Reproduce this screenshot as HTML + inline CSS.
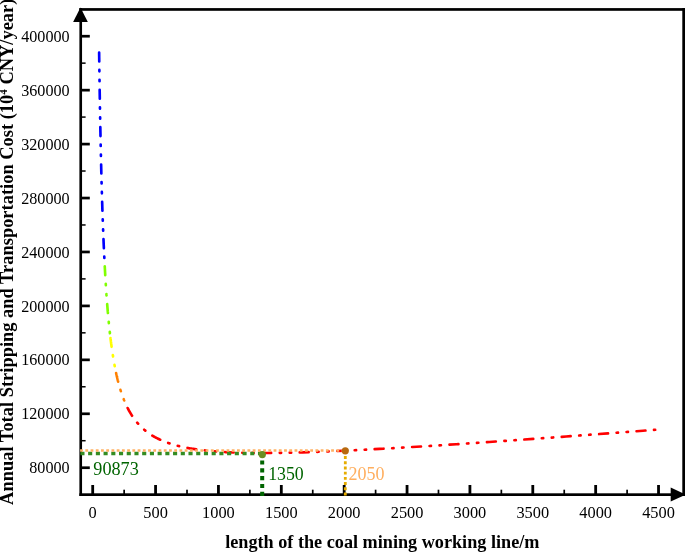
<!DOCTYPE html>
<html><head><meta charset="utf-8"><title>chart</title>
<style>
html,body{margin:0;padding:0;background:#fff;}
body{width:685px;height:552px;overflow:hidden;position:relative;font-family:"Liberation Serif",serif;}
svg{position:absolute;left:0;top:0;display:block;}
text{font-family:"Liberation Serif",serif;}
</style></head><body>
<svg width="685" height="552" viewBox="0 0 685 552">
<rect width="685" height="552" fill="#fff"/>

<g fill="#000">
<rect x="79.4" y="8.1" width="606" height="2.7"/>
<rect x="682.3" y="8.1" width="3" height="487.9"/>
<rect x="79.4" y="8.1" width="2.65" height="487.9"/>
<rect x="79.4" y="493.3" width="606" height="2.7"/>
<polygon points="80.5,7.5 73.1,22 87.8,22"/>
<polygon points="686,494.6 670.7,487.4 670.7,501.6"/>
<rect x="81" y="466.38" width="8.8" height="2.7"/>
<rect x="81" y="412.44" width="8.8" height="2.7"/>
<rect x="81" y="358.50" width="8.8" height="2.7"/>
<rect x="81" y="304.56" width="8.8" height="2.7"/>
<rect x="81" y="250.62" width="8.8" height="2.7"/>
<rect x="81" y="196.69" width="8.8" height="2.7"/>
<rect x="81" y="142.75" width="8.8" height="2.7"/>
<rect x="81" y="88.81" width="8.8" height="2.7"/>
<rect x="81" y="34.87" width="8.8" height="2.7"/>
<rect x="81" y="439.96" width="4.6" height="1.5"/>
<rect x="81" y="386.02" width="4.6" height="1.5"/>
<rect x="81" y="332.08" width="4.6" height="1.5"/>
<rect x="81" y="278.14" width="4.6" height="1.5"/>
<rect x="81" y="224.21" width="4.6" height="1.5"/>
<rect x="81" y="170.27" width="4.6" height="1.5"/>
<rect x="81" y="116.33" width="4.6" height="1.5"/>
<rect x="81" y="62.39" width="4.6" height="1.5"/>
<rect x="91.30" y="485" width="2.8" height="9"/>
<rect x="154.17" y="485" width="2.8" height="9"/>
<rect x="217.04" y="485" width="2.8" height="9"/>
<rect x="279.91" y="485" width="2.8" height="9"/>
<rect x="342.78" y="485" width="2.8" height="9"/>
<rect x="405.65" y="485" width="2.8" height="9"/>
<rect x="468.52" y="485" width="2.8" height="9"/>
<rect x="531.39" y="485" width="2.8" height="9"/>
<rect x="594.26" y="485" width="2.8" height="9"/>
<rect x="657.13" y="485" width="2.8" height="9"/>
<rect x="123.29" y="489.7" width="1.7" height="5"/>
<rect x="186.16" y="489.7" width="1.7" height="5"/>
<rect x="249.03" y="489.7" width="1.7" height="5"/>
<rect x="311.89" y="489.7" width="1.7" height="5"/>
<rect x="374.76" y="489.7" width="1.7" height="5"/>
<rect x="437.63" y="489.7" width="1.7" height="5"/>
<rect x="500.50" y="489.7" width="1.7" height="5"/>
<rect x="563.38" y="489.7" width="1.7" height="5"/>
<rect x="626.25" y="489.7" width="1.7" height="5"/>
</g>
<g font-size="16.35" fill="#000">
<text x="69.6" y="473.33" font-size="16.15" text-anchor="end">80000</text>
<text x="69.6" y="419.39" font-size="16.15" text-anchor="end">120000</text>
<text x="69.6" y="365.45" font-size="16.15" text-anchor="end">160000</text>
<text x="69.6" y="311.51" font-size="16.15" text-anchor="end">200000</text>
<text x="69.6" y="257.57" font-size="16.15" text-anchor="end">240000</text>
<text x="69.6" y="203.64" font-size="16.15" text-anchor="end">280000</text>
<text x="69.6" y="149.70" font-size="16.15" text-anchor="end">320000</text>
<text x="69.6" y="95.76" font-size="16.15" text-anchor="end">360000</text>
<text x="69.6" y="41.82" font-size="16.15" text-anchor="end">400000</text>
<text x="92.70" y="518.3" text-anchor="middle">0</text>
<text x="155.57" y="518.3" text-anchor="middle">500</text>
<text x="218.44" y="518.3" text-anchor="middle">1000</text>
<text x="281.31" y="518.3" text-anchor="middle">1500</text>
<text x="344.18" y="518.3" text-anchor="middle">2000</text>
<text x="407.05" y="518.3" text-anchor="middle">2500</text>
<text x="469.92" y="518.3" text-anchor="middle">3000</text>
<text x="532.79" y="518.3" text-anchor="middle">3500</text>
<text x="595.66" y="518.3" text-anchor="middle">4000</text>
<text x="658.53" y="518.3" text-anchor="middle">4500</text>
</g>
<text x="382.3" y="548.2" font-size="18.2" font-weight="bold" text-anchor="middle">length of the coal mining working line/m</text>
<text transform="translate(12.5,504.9) rotate(-90)" font-size="18.46" font-weight="bold">Annual Total Stripping and Transportation Cost (10<tspan font-size="11" dy="-6">4</tspan><tspan dy="6"> CNY/year)</tspan></text>
<g fill="none" stroke-width="2.65" stroke-linecap="round">
<path d="M99.13,52.50 L99.16,54.88 L99.19,57.23 L99.22,59.55 L99.25,61.85 L99.29,64.13 L99.32,66.38 L99.35,68.60 L99.38,70.80 L99.41,72.98 L99.44,75.14 L99.47,77.27 L99.50,79.38 L99.54,81.47 L99.57,83.53 L99.60,85.58 L99.63,87.60 L99.66,89.61 L99.69,91.59 L99.72,93.55 L99.76,95.50 L99.79,97.42 L99.82,99.33 L99.85,101.21 L99.88,103.08 L99.91,104.93 L99.94,106.76 L99.98,108.57 L100.01,110.37 L100.04,112.15 L100.07,113.91 L100.10,115.65 L100.13,117.38 L100.16,119.09 L100.20,120.79 L100.23,122.47 L100.26,124.13 L100.29,125.78 L100.32,127.41 L100.35,129.03 L100.38,130.63 L100.42,132.22 L100.45,133.80 L100.48,135.36 L100.51,136.90 L100.54,138.44 L100.57,139.95 L100.60,141.46 L100.64,142.95 L100.67,144.43 L100.70,145.90 L100.73,147.35 L100.76,148.79 L100.79,150.22 L100.82,151.64 L100.85,153.04 L100.89,154.43 L100.92,155.81 L100.95,157.18 L100.98,158.54 L101.01,159.88 L101.04,161.22 L101.07,162.54 L101.11,163.85 L101.14,165.15 L101.17,166.44 L101.20,167.72 L101.23,168.99 L101.26,170.25 L101.29,171.50 L101.33,172.74 L101.36,173.97 L101.39,175.19 L101.42,176.40 L101.45,177.60 L101.48,178.79 L101.51,179.97 L101.55,181.15 L101.58,182.31 L101.61,183.46 L101.64,184.61 L101.67,185.74 L101.70,186.87 L101.73,187.99 L101.77,189.10 L101.80,190.20 L101.83,191.30 L101.86,192.38 L101.89,193.46 L101.92,194.53 L101.95,195.59 L101.99,196.64 L102.02,197.69 L102.05,198.73 L102.08,199.76 L102.11,200.78 L102.14,201.79 L102.17,202.80 L102.21,203.80 L102.24,204.79 L102.27,205.78 L102.30,206.76 L102.33,207.73 L102.36,208.70 L102.39,209.66 L102.42,210.61 L102.46,211.55 L102.49,212.49 L102.52,213.42 L102.55,214.35 L102.58,215.27 L102.61,216.18 L102.64,217.09 L102.68,217.99 L102.71,218.88 L102.74,219.77 L102.77,220.65 L102.80,221.52 L102.83,222.39 L102.86,223.26 L102.90,224.12 L102.93,224.97 L102.96,225.82 L102.99,226.66 L103.02,227.49 L103.05,228.32 L103.08,229.15 L103.12,229.97 L103.15,230.78 L103.18,231.59 L103.21,232.39 L103.24,233.19 L103.27,233.98 L103.30,234.77 L103.34,235.55 L103.37,236.33 L103.40,237.10 L103.43,237.87 L103.46,238.63 L103.49,239.39 L103.52,240.15 L103.56,240.89 L103.59,241.64 L103.62,242.38 L103.65,243.11 L103.68,243.84 L103.71,244.57 L103.74,245.29 L103.78,246.01 L103.81,246.72 L103.84,247.43 L103.87,248.13 L103.90,248.83 L103.93,249.53 L103.96,250.22 L103.99,250.90 L104.03,251.59 L104.06,252.27 L104.09,252.94 L104.12,253.61 L104.15,254.28 L104.18,254.94 L104.21,255.60 L104.25,256.26 L104.28,256.91 L104.31,257.55 L104.34,258.20 L104.37,258.84 L104.40,259.47 L104.43,260.11 L104.47,260.74 L104.50,261.36 L104.53,261.98 L104.56,262.60" stroke="#0000ff" stroke-dasharray="8.9 8.550 1.4 8.550 1.4 8.550"/>
<path d="M104.75,266.24 L104.78,266.83 L104.81,267.42 L104.84,268.01 L104.87,268.59 L104.91,269.17 L104.94,269.75 L104.97,270.33 L105.00,270.90 L105.03,271.47 L105.06,272.03 L105.09,272.59 L105.13,273.15 L105.16,273.71 L105.19,274.26 L105.22,274.81 L105.25,275.36 L105.28,275.90 L105.31,276.45 L105.34,276.98 L105.38,277.52 L105.41,278.05 L105.44,278.58 L105.47,279.11 L105.50,279.63 L105.53,280.16 L105.56,280.68 L105.60,281.19 L105.63,281.70 L105.66,282.22 L105.69,282.72 L105.72,283.23 L105.75,283.73 L105.78,284.23 L105.82,284.73 L105.85,285.23 L105.88,285.72 L105.91,286.21 L105.94,286.70 L105.97,287.18 L106.00,287.66 L106.04,288.15 L106.07,288.62 L106.10,289.10 L106.13,289.57 L106.16,290.04 L106.19,290.51 L106.22,290.98 L106.26,291.44 L106.29,291.90 L106.32,292.36 L106.35,292.82 L106.38,293.27 L106.41,293.73 L106.44,294.18 L106.48,294.63 L106.51,295.07 L106.54,295.51 L106.57,295.96 L106.60,296.40 L106.63,296.83 L106.66,297.27 L106.70,297.70 L106.73,298.13 L106.76,298.56 L106.79,298.99 L106.82,299.41 L106.85,299.84 L106.88,300.26 L106.91,300.68 L106.95,301.09 L106.98,301.51 L107.01,301.92 L107.04,302.33 L107.07,302.74 L107.10,303.15 L107.13,303.56 L107.17,303.96 L107.20,304.36 L107.23,304.76 L107.26,305.16 L107.29,305.56 L107.32,305.95 L107.35,306.34 L107.39,306.73 L107.42,307.12 L107.45,307.51 L107.48,307.90 L107.51,308.28 L107.54,308.66 L107.57,309.04 L107.61,309.42 L107.64,309.80 L107.67,310.17 L107.70,310.55 L107.73,310.92 L107.76,311.29 L107.79,311.66 L107.83,312.03 L107.86,312.39 L107.89,312.76 L107.92,313.12 L107.95,313.48 L107.98,313.84 L108.01,314.20 L108.05,314.55 L108.08,314.91 L108.11,315.26 L108.14,315.61 L108.17,315.96 L108.20,316.31 L108.23,316.66 L108.27,317.00 L108.30,317.34 L108.33,317.69 L108.36,318.03 L108.39,318.37 L108.42,318.71 L108.45,319.04 L108.48,319.38 L108.52,319.71 L108.55,320.04 L108.58,320.37 L108.61,320.70 L108.64,321.03 L108.67,321.36 L108.70,321.68 L108.74,322.01 L108.77,322.33 L108.80,322.65 L108.83,322.97 L108.86,323.29 L108.89,323.61 L108.92,323.93 L108.96,324.24 L108.99,324.55 L109.02,324.87 L109.05,325.18 L109.08,325.49 L109.11,325.80 L109.14,326.10 L109.18,326.41 L109.21,326.71 L109.24,327.02 L109.27,327.32 L109.30,327.62 L109.33,327.92 L109.36,328.22 L109.40,328.52 L109.43,328.81 L109.46,329.11 L109.49,329.40 L109.52,329.70 L109.55,329.99 L109.58,330.28 L109.62,330.57 L109.65,330.86 L109.68,331.14 L109.71,331.43 L109.74,331.71 L109.77,332.00 L109.80,332.28 L109.83,332.56 L109.87,332.84 L109.90,333.12 L109.93,333.40 L109.96,333.68 L109.99,333.95 L110.02,334.23 L110.05,334.50 L110.09,334.78 L110.12,335.05 L110.15,335.32 L110.18,335.59 L110.21,335.86 L110.24,336.13 L110.27,336.39 L110.31,336.66 L110.34,336.92 L110.37,337.19 L110.40,337.45 L110.43,337.71" stroke="#80ff00" stroke-dasharray="8.9 8.767 1.4 8.767 1.4 8.767"/>
<path d="M110.46,337.97 L110.49,338.23 L110.53,338.49 L110.56,338.75 L110.59,339.01 L110.62,339.26 L110.65,339.52 L110.68,339.77 L110.71,340.03 L110.75,340.28 L110.78,340.53 L110.81,340.78 L110.84,341.03 L110.87,341.28 L110.90,341.53 L110.93,341.77 L110.97,342.02 L111.00,342.26 L111.03,342.51 L111.06,342.75 L111.09,342.99 L111.12,343.24 L111.15,343.48 L111.19,343.72 L111.22,343.96 L111.25,344.19 L111.28,344.43 L111.31,344.67 L111.34,344.90 L111.37,345.14 L111.40,345.37 L111.44,345.60 L111.47,345.84 L111.50,346.07 L111.53,346.30 L111.56,346.53 L111.59,346.76 L111.62,346.99 L111.66,347.21 L111.69,347.44 L111.72,347.67 L111.75,347.89 L111.78,348.11 L111.81,348.34 L111.84,348.56 L111.88,348.78 L111.91,349.00 L111.94,349.22 L111.97,349.44 L112.00,349.66 L112.03,349.88 L112.06,350.10 L112.10,350.31 L112.13,350.53 L112.16,350.75 L112.19,350.96 L112.22,351.17 L112.25,351.39 L112.28,351.60 L112.32,351.81 L112.35,352.02 L112.38,352.23 L112.41,352.44 L112.44,352.65 L112.47,352.86 L112.50,353.07 L112.54,353.27 L112.57,353.48 L112.60,353.68 L112.63,353.89 L112.66,354.09 L112.69,354.29 L112.72,354.50 L112.75,354.70 L112.79,354.90 L112.82,355.10 L112.85,355.30 L112.88,355.50 L112.91,355.70 L112.94,355.90 L112.97,356.09 L113.01,356.29 L113.04,356.49 L113.07,356.68 L113.10,356.88 L113.13,357.07 L113.16,357.26 L113.19,357.46 L113.23,357.65 L113.26,357.84 L113.29,358.03 L113.32,358.22 L113.35,358.41 L113.38,358.60 L113.41,358.79 L113.45,358.98 L113.48,359.16 L113.51,359.35 L113.54,359.54 L113.57,359.72 L113.60,359.91 L113.63,360.09 L113.67,360.28 L113.70,360.46 L113.73,360.64 L113.76,360.82 L113.79,361.00 L113.82,361.19 L113.85,361.37 L113.89,361.55 L113.92,361.73 L113.95,361.90 L113.98,362.08 L114.01,362.26 L114.04,362.44 L114.07,362.61 L114.11,362.79 L114.14,362.96 L114.17,363.14 L114.20,363.31 L114.23,363.49 L114.26,363.66 L114.29,363.83 L114.32,364.01 L114.36,364.18 L114.39,364.35 L114.42,364.52 L114.45,364.69 L114.48,364.86 L114.51,365.03 L114.54,365.20 L114.58,365.36 L114.61,365.53 L114.64,365.70 L114.67,365.86 L114.70,366.03 L114.73,366.20 L114.76,366.36 L114.80,366.53 L114.83,366.69 L114.86,366.85 L114.89,367.02 L114.92,367.18 L114.95,367.34 L114.98,367.50 L115.02,367.66 L115.05,367.82 L115.08,367.98 L115.11,368.14 L115.14,368.30 L115.17,368.46 L115.20,368.62 L115.24,368.78 L115.27,368.94 L115.30,369.09 L115.33,369.25 L115.36,369.40 L115.39,369.56 L115.42,369.71 L115.46,369.87 L115.49,370.02 L115.52,370.18 L115.55,370.33 L115.58,370.48 L115.61,370.64 L115.64,370.79 L115.68,370.94 L115.71,371.09 L115.74,371.24 L115.77,371.39 L115.80,371.54 L115.83,371.69 L115.86,371.84 L115.89,371.99 L115.93,372.14 L115.96,372.28 L115.99,372.43 L116.02,372.58 L116.05,372.72 L116.08,372.87" stroke="#ffff00" stroke-dasharray="8.9 8.467 1.4 8.467 1.4 8.467"/>
<path d="M116.11,373.02 L116.18,373.31 L116.24,373.59 L116.30,373.88 L116.37,374.16 L116.43,374.45 L116.49,374.73 L116.55,375.01 L116.62,375.29 L116.68,375.57 L116.74,375.84 L116.81,376.12 L116.87,376.39 L116.93,376.66 L116.99,376.93 L117.06,377.20 L117.12,377.46 L117.18,377.73 L117.24,377.99 L117.31,378.26 L117.37,378.52 L117.43,378.78 L117.50,379.04 L117.56,379.29 L117.62,379.55 L117.68,379.80 L117.75,380.05 L117.81,380.31 L117.87,380.56 L117.94,380.81 L118.00,381.05 L118.06,381.30 L118.12,381.54 L118.19,381.79 L118.25,382.03 L118.31,382.27 L118.38,382.51 L118.44,382.75 L118.50,382.99 L118.56,383.22 L118.63,383.46 L118.69,383.69 L118.75,383.93 L118.81,384.16 L118.88,384.39 L118.94,384.62 L119.00,384.84 L119.07,385.07 L119.13,385.30 L119.19,385.52 L119.25,385.75 L119.32,385.97 L119.38,386.19 L119.44,386.41 L119.51,386.63 L119.57,386.85 L119.63,387.06 L119.69,387.28 L119.76,387.49 L119.82,387.71 L119.88,387.92 L119.95,388.13 L120.01,388.34 L120.07,388.55 L120.13,388.76 L120.20,388.97 L120.26,389.17 L120.32,389.38 L120.38,389.59 L120.45,389.79 L120.51,389.99 L120.57,390.19 L120.64,390.39 L120.70,390.59 L120.76,390.79 L120.82,390.99 L120.89,391.19 L120.95,391.38 L121.01,391.58 L121.08,391.77 L121.14,391.97 L121.20,392.16 L121.26,392.35 L121.33,392.54 L121.39,392.73 L121.45,392.92 L121.52,393.11 L121.58,393.29 L121.64,393.48 L121.70,393.67 L121.77,393.85 L121.83,394.03 L121.89,394.22 L121.95,394.40 L122.02,394.58 L122.08,394.76 L122.14,394.94 L122.21,395.12 L122.27,395.30 L122.33,395.47 L122.39,395.65 L122.46,395.83 L122.52,396.00 L122.58,396.18 L122.65,396.35 L122.71,396.52 L122.77,396.69 L122.83,396.86 L122.90,397.03 L122.96,397.20 L123.02,397.37 L123.09,397.54 L123.15,397.71 L123.21,397.87 L123.27,398.04 L123.34,398.20 L123.40,398.37 L123.46,398.53 L123.52,398.70 L123.59,398.86 L123.65,399.02 L123.71,399.18 L123.78,399.34 L123.84,399.50 L123.90,399.66 L123.96,399.82 L124.03,399.97 L124.09,400.13 L124.15,400.29 L124.22,400.44 L124.28,400.60 L124.34,400.75 L124.40,400.91 L124.47,401.06 L124.53,401.21 L124.59,401.36 L124.65,401.51 L124.72,401.66 L124.78,401.81 L124.84,401.96 L124.91,402.11 L124.97,402.26 L125.03,402.41 L125.09,402.55 L125.16,402.70 L125.22,402.84 L125.28,402.99 L125.35,403.13 L125.41,403.28 L125.47,403.42 L125.53,403.56 L125.60,403.70 L125.66,403.85 L125.72,403.99 L125.79,404.13 L125.85,404.27 L125.91,404.41 L125.97,404.54 L126.04,404.68 L126.10,404.82 L126.16,404.96 L126.22,405.09 L126.29,405.23 L126.35,405.36 L126.41,405.50 L126.48,405.63 L126.54,405.77 L126.60,405.90 L126.66,406.03 L126.73,406.16 L126.79,406.29 L126.85,406.43 L126.92,406.56 L126.98,406.69 L127.04,406.82 L127.10,406.94 L127.17,407.07 L127.23,407.20 L127.29,407.33 L127.36,407.46 L127.42,407.58 L127.48,407.71 L127.54,407.83 L127.61,407.96" stroke="#ff8000" stroke-dasharray="8.9 8.467 1.4 8.467 1.4 8.467"/>
<path d="M127.64,408.02 L128.23,409.18 L128.83,410.30 L129.43,411.39 L130.02,412.43 L130.62,413.44 L131.22,414.42 L131.81,415.36 L132.41,416.28 L133.01,417.16 L133.60,418.02 L134.20,418.85 L134.80,419.66 L135.39,420.44 L135.99,421.19 L136.59,421.93 L137.18,422.64 L137.78,423.34 L138.38,424.01 L138.97,424.66 L139.57,425.30 L140.17,425.92 L140.76,426.52 L141.36,427.10 L141.96,427.67 L142.55,428.23 L143.15,428.77 L143.75,429.29 L144.34,429.81 L144.94,430.31 L145.53,430.79 L146.13,431.27 L146.73,431.73 L147.32,432.18 L147.92,432.62 L148.52,433.05 L149.11,433.47 L149.71,433.88 L150.31,434.28 L150.90,434.67 L151.50,435.05 L152.10,435.43 L152.69,435.79 L153.29,436.15 L153.89,436.49 L154.48,436.83 L155.08,437.17 L155.68,437.49 L156.27,437.81 L156.87,438.12 L157.47,438.42 L158.06,438.72 L158.66,439.01 L159.26,439.30 L159.85,439.58 L160.45,439.85 L161.05,440.12 L161.64,440.38 L162.24,440.64 L162.84,440.89 L163.43,441.14 L164.03,441.38 L164.63,441.61 L165.22,441.84 L165.82,442.07 L166.41,442.29 L167.01,442.51 L167.61,442.72 L168.20,442.93 L168.80,443.14 L169.40,443.34 L169.99,443.54 L170.59,443.73 L171.19,443.92 L171.78,444.11 L172.38,444.29 L172.98,444.47 L173.57,444.64 L174.17,444.82 L174.77,444.98 L175.36,445.15 L175.96,445.31 L176.56,445.47 L177.15,445.63 L177.75,445.78 L178.35,445.93 L178.94,446.08 L179.54,446.23 L180.14,446.37 L180.73,446.51 L181.33,446.65 L181.93,446.78 L182.52,446.91 L183.12,447.04 L183.72,447.17 L184.31,447.30 L184.91,447.42 L185.51,447.54 L186.10,447.66 L186.70,447.77 L187.29,447.89 L187.89,448.00 L188.49,448.11 L189.08,448.22 L189.68,448.32 L190.28,448.43 L190.87,448.53 L191.47,448.63 L192.07,448.73 L192.66,448.83 L193.26,448.92 L203.70,450.33 L214.68,451.38 L225.66,452.11 L236.64,452.58 L247.63,452.85 L258.61,452.97 L269.59,452.95 L280.57,452.82 L291.56,452.61 L302.54,452.32 L313.52,451.97 L324.50,451.57 L335.49,451.11 L346.47,450.62 L357.45,450.09 L368.43,449.52 L379.42,448.93 L390.40,448.32 L401.38,447.68 L412.36,447.02 L423.35,446.35 L434.33,445.66 L445.31,444.95 L456.29,444.23 L467.28,443.50 L478.26,442.76 L489.24,442.00 L500.22,441.24 L511.21,440.47 L522.19,439.69 L533.17,438.90 L544.15,438.11 L555.14,437.31 L566.12,436.50 L577.10,435.69 L588.08,434.88 L599.07,434.06 L610.05,433.23 L621.03,432.40 L632.01,431.57 L643.00,430.73 L653.98,429.89 L655.14,429.80" stroke="#ff0000" stroke-dasharray="8.9 8.600 1.4 8.600 1.4 8.600"/>
</g>
<line x1="80.4" y1="453.45" x2="262.3" y2="453.45" stroke="#348c22" stroke-width="3.5" stroke-dasharray="4.1 3.62"/>
<line x1="80.1" y1="450.5" x2="345" y2="450.5" stroke="#ffb266" stroke-width="2.5" stroke-dasharray="2.8 2.43"/>
<line x1="262.2" y1="460.4" x2="262.2" y2="496" stroke="#006400" stroke-width="4" stroke-dasharray="4.15 3.7"/>
<line x1="345.3" y1="450.9" x2="345.3" y2="496" stroke="#e6ac00" stroke-width="2.8" stroke-dasharray="2.9 2.3"/>
<circle cx="262.3" cy="454.6" r="3.65" fill="#6b8e23"/>
<circle cx="345.3" cy="450.8" r="3.6" fill="#b8690f"/>
<text x="93.3" y="475" font-size="18.2" fill="#006400">90873</text>
<text x="268.2" y="480.2" font-size="17.8" fill="#006400">1350</text>
<text x="348.5" y="479.5" font-size="18" fill="#ffae5e">2050</text>
</svg></body></html>
